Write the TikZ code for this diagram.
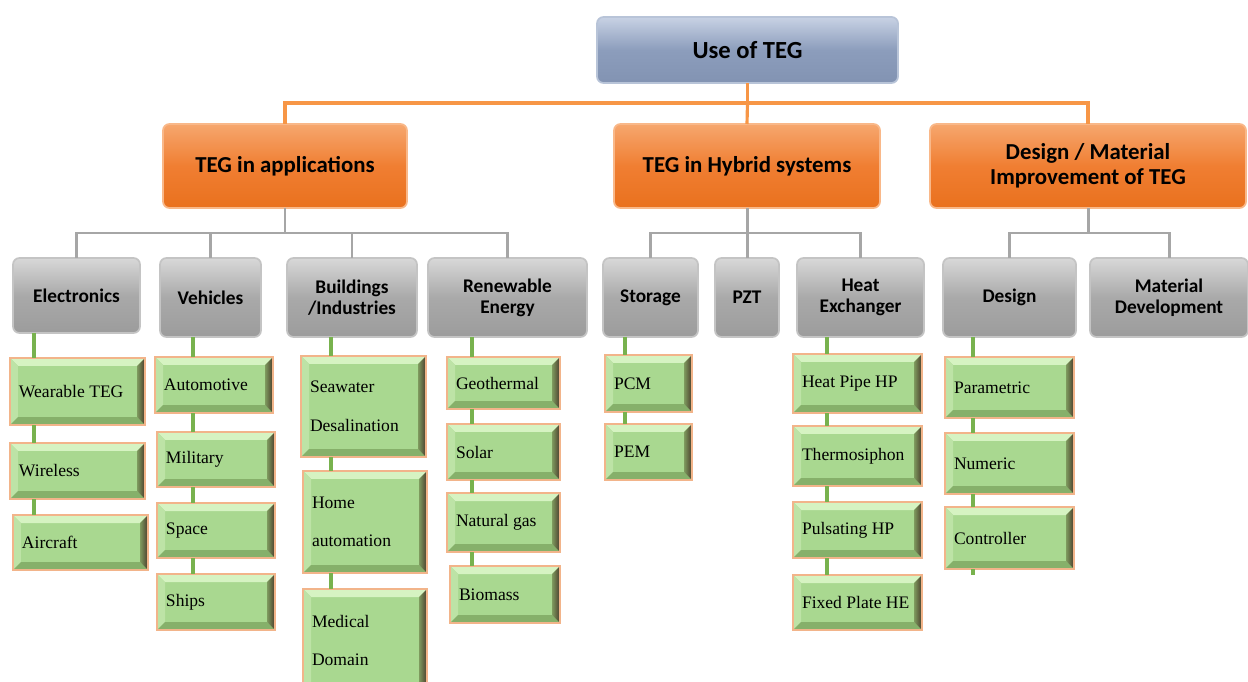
\documentclass[tikz,border=0pt]{standalone}
\usepackage{fontspec}
\setmainfont{Liberation Serif}
\newfontfamily\calfont{Carlito}
\usetikzlibrary{calc}
\definecolor{gfill}{HTML}{A9D890}
\definecolor{gtop}{HTML}{D6F3C2}
\definecolor{gleft}{HTML}{BDE3A6}
\definecolor{gbot}{HTML}{86B06A}
\definecolor{gright}{HTML}{4A3C2C}
\definecolor{gright2}{HTML}{7E9A5E}
\definecolor{gborder}{HTML}{F2B48A}
\definecolor{glinec}{HTML}{78B24E}
\definecolor{graylinec}{HTML}{A6A6A6}
\definecolor{olinec}{HTML}{F79646}
\definecolor{grtop}{HTML}{D8D8D8}
\definecolor{grmid}{HTML}{A9A9A9}
\definecolor{grbot}{HTML}{9C9C9C}
\definecolor{grborder}{HTML}{C4C4C4}
\definecolor{ortop}{HTML}{F6A76E}
\definecolor{ormid}{HTML}{F07E32}
\definecolor{orbot}{HTML}{E9711E}
\definecolor{orborder}{HTML}{F9B889}
\definecolor{bltop}{HTML}{C8D2E4}
\definecolor{blmid}{HTML}{8C9DBC}
\definecolor{blbot}{HTML}{8293B2}
\definecolor{blborder}{HTML}{B8C4D8}
\newcommand\bx[7]{%
  \node[#1, minimum width={(#5-#3)*0.02cm}, minimum height={(#6-#4)*0.02cm}, anchor=north west] (#2) at (#3,#4) {#7};}
\newcommand\gb[6]{%
  \pgfmathsetmacro\gbtw{(#4-#2)*0.02-0.36}%
  \node[greenbox, minimum height={(#5-#3)*0.02cm}, text width=\gbtw cm, anchor=north west] (#1) at (#2,#3) {#6};}
\begin{document}
\begin{tikzpicture}[x=0.02cm,y=-0.02cm,
  bevel/.style={path picture={
    \path (path picture bounding box.north west) coordinate (pA)
          (path picture bounding box.north east) coordinate (pB)
          (path picture bounding box.south east) coordinate (pC)
          (path picture bounding box.south west) coordinate (pD);
    \fill[gtop] (pA) -- (pB) -- ($(pB)+(-0.16cm,-0.16cm)$) -- ($(pA)+(0.16cm,-0.16cm)$) -- cycle;
    \fill[gleft] (pA) -- (pD) -- ($(pD)+(0.16cm,0.16cm)$) -- ($(pA)+(0.16cm,-0.16cm)$) -- cycle;
    \fill[gbot] (pD) -- (pC) -- ($(pC)+(-0.16cm,0.16cm)$) -- ($(pD)+(0.16cm,0.16cm)$) -- cycle;
    \shade[left color=gright2, right color=gright] (pB) -- (pC) -- ($(pC)+(-0.16cm,0.16cm)$) -- ($(pB)+(-0.16cm,-0.16cm)$) -- cycle;
  }},
  greenbox/.style={draw=gborder, line width=1.1pt, fill=gfill, bevel, inner xsep=0.18cm, inner ysep=0pt,
    outer sep=0pt, align=left, font=\fontsize{10}{22}\selectfont,
    execute at begin node={\spaceskip=0.25em\relax}},
  graybox/.style={draw=grborder, line width=1pt, rounded corners=0.13cm, top color=grtop, bottom color=grbot,
    middle color=grmid, align=center, inner sep=2pt, outer sep=0pt,
    font=\calfont\bfseries\fontsize{11}{12}\selectfont},
  orbox/.style={draw=orborder, line width=1pt, rounded corners=0.13cm, top color=ortop, bottom color=orbot,
    middle color=ormid, align=center, inner sep=2pt, outer sep=0pt,
    font=\calfont\bfseries\fontsize{13}{14}\selectfont},
  blbox/.style={draw=blborder, line width=1pt, rounded corners=0.13cm, top color=bltop, bottom color=blbot,
    middle color=blmid, align=center, inner sep=2pt, outer sep=0pt,
    font=\calfont\bfseries\fontsize{14}{15}\selectfont},
  oline/.style={draw=olinec, line width=1.8pt},
  grline/.style={draw=graylinec, line width=1.7pt},
  gline/.style={draw=glinec, line width=2.2pt}
]
\useasboundingbox (0,0) rectangle (1248,682);
% level 0 and 1
\bx{blbox}{top}{597}{17}{898}{83}{Use of TEG}
\bx{orbox}{app}{163}{124}{407}{208}{TEG in applications}
\bx{orbox}{hyb}{614}{124}{880}{208}{TEG in Hybrid systems}
\bx{orbox}{dmi}{930}{124}{1246}{208}{Design / Material\\Improvement of TEG}
% level 2
\bx{graybox}{elec}{13}{258}{140}{333}{Electronics}
\bx{graybox}{veh}{160}{258}{261}{337}{Vehicles}
\bx{graybox}{bui}{287}{258}{417}{337}{Buildings\\/Industries}
\bx{graybox}{ren}{428}{258}{587}{337}{Renewable\\Energy}
\bx{graybox}{sto}{603}{258}{698}{337}{Storage}
\bx{graybox}{pzt}{715}{258}{779}{337}{PZT}
\bx{graybox}{hex}{797}{258}{924}{337}{Heat\\Exchanger}
\bx{graybox}{des}{943}{258}{1076}{337}{Design}
\bx{graybox}{mat}{1090}{258}{1248}{337}{Material\\Development}
% level 3
\gb{wear}{10}{358}{145}{425}{Wearable TEG}
\gb{wire}{10}{443}{145}{499}{Wireless}
\gb{air}{13}{515}{148}{570}{Aircraft}
\gb{auto}{155}{357}{273}{413}{Automotive}
\gb{mil}{157}{432}{275}{487}{Military}
\gb{spa}{157}{503}{275}{558}{Space}
\gb{shi}{157}{574}{275}{630}{Ships}
\gb{sea}{301}{356}{426}{457}{Seawater\\Desalination}
\gb{home}{303}{471}{427}{573}{Home\\automation}
\gb{med}{303}{589}{427}{692}{Medical\\Domain}
\gb{geo}{447}{357}{560}{409}{Geothermal}
\gb{sol}{447}{424}{560}{480}{Solar}
\gb{nat}{447}{493}{560}{552}{Natural gas}
\gb{bio}{450}{566}{560}{623}{Biomass}
\gb{pcm}{605}{355}{692}{412}{PCM}
\gb{pem}{605}{424}{692}{480}{PEM}
\gb{hp}{793}{354}{922}{413}{Heat Pipe HP}
\gb{ths}{793}{426}{922}{486}{Thermosiphon}
\gb{php}{793}{502}{922}{558}{Pulsating HP}
\gb{fph}{793}{575}{922}{630}{Fixed Plate HE}
\gb{par}{945}{357}{1074}{418}{Parametric}
\gb{num}{945}{433}{1074}{494}{Numeric}
\gb{con}{945}{507}{1074}{569}{Controller}
% bus coordinates
\coordinate (bus0) at (0,103);
\coordinate (bus1) at (0,233);
% orange connectors
\draw[oline] (top.south) -- (top.south |- bus0) -| (app.north);
\draw[oline] (top.south |- bus0) -- (hyb.north);
\draw[oline] (top.south |- bus0) -| (dmi.north);
% gray connectors
\draw[grline] (app.south) -- (app.south |- bus1) -| (elec.north);
\draw[grline] (app.south |- bus1) -| (ren.north);
\draw[grline] (veh.north) -- (veh.north |- bus1);
\draw[grline] (bui.north) -- (bui.north |- bus1);
\draw[grline] (hyb.south) -- (hyb.south |- bus1) -| (sto.north);
\draw[grline] (hyb.south |- bus1) -| (hex.north);
\draw[grline] (pzt.north) -- (pzt.north |- bus1);
\draw[grline] (dmi.south) -- (dmi.south |- bus1) -| (des.north);
\draw[grline] (dmi.south |- bus1) -| (mat.north);
% green connectors
\coordinate (c1) at (34,0);
\coordinate (c2) at (193,0);
\coordinate (c3) at (331,0);
\coordinate (c4) at (472,0);
\coordinate (c5) at (625,0);
\coordinate (c6) at (827,0);
\coordinate (c7) at (973,0);
\draw[gline] (elec.south -| c1) -- (wear.north -| c1);
\draw[gline] (wear.south -| c1) -- (wire.north -| c1);
\draw[gline] (wire.south -| c1) -- (air.north -| c1);
\draw[gline] (veh.south -| c2) -- (auto.north -| c2);
\draw[gline] (auto.south -| c2) -- (mil.north -| c2);
\draw[gline] (mil.south -| c2) -- (spa.north -| c2);
\draw[gline] (spa.south -| c2) -- (shi.north -| c2);
\draw[gline] (bui.south -| c3) -- (sea.north -| c3);
\draw[gline] (sea.south -| c3) -- (home.north -| c3);
\draw[gline] (home.south -| c3) -- (med.north -| c3);
\draw[gline] (ren.south -| c4) -- (geo.north -| c4);
\draw[gline] (geo.south -| c4) -- (sol.north -| c4);
\draw[gline] (sol.south -| c4) -- (nat.north -| c4);
\draw[gline] (nat.south -| c4) -- (bio.north -| c4);
\draw[gline] (sto.south -| c5) -- (pcm.north -| c5);
\draw[gline] (pcm.south -| c5) -- (pem.north -| c5);
\draw[gline] (hex.south -| c6) -- (hp.north -| c6);
\draw[gline] (hp.south -| c6) -- (ths.north -| c6);
\draw[gline] (ths.south -| c6) -- (php.north -| c6);
\draw[gline] (php.south -| c6) -- (fph.north -| c6);
\draw[gline] (des.south -| c7) -- (par.north -| c7);
\draw[gline] (par.south -| c7) -- (num.north -| c7);
\draw[gline] (num.south -| c7) -- (con.north -| c7);
\coordinate (stub) at (973,575);
\draw[gline] (con.south -| c7) -- (stub);
\end{tikzpicture}
\end{document}
